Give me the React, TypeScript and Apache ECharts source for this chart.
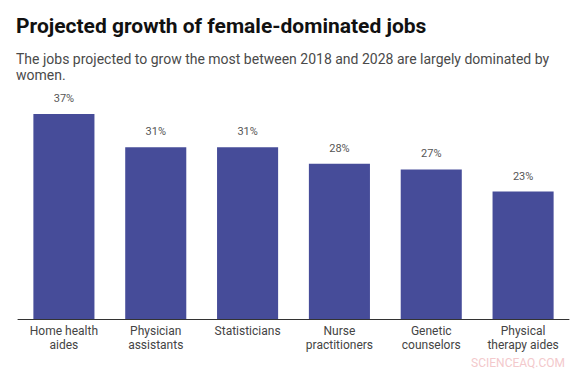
import React, { useEffect, useRef } from "react";
import * as echarts from "echarts";

const categories = [
  "Home health\naides",
  "Physician\nassistants",
  "Statisticians",
  "Nurse\npractitioners",
  "Genetic\ncounselors",
  "Physical\ntherapy aides",
];
const growth = [37, 31, 31, 28, 27, 23];
const titleText = "Projected growth of female-dominated jobs";
const subtitleText =
  "The jobs projected to grow the most between 2018 and 2028 are largely dominated by\nwomen.";
const watermark = "SCIENCEAQ.COM";

export default function App() {
  const ref = useRef<HTMLDivElement>(null);
  useEffect(() => {
    document.body.style.margin = "0";
    const chart = echarts.init(ref.current!, null, { renderer: "svg" });
    chart.setOption({
      animation: false,
      backgroundColor: "#ffffff",
      graphic: [
        {
          type: "text",
          left: 16,
          top: 15,
          style: {
            text: titleText,
            font: "bold 21px Roboto",
            fill: "#111111",
          },
        },
        {
          type: "text",
          left: 16,
          top: 51,
          style: {
            text: subtitleText,
            font: "14px Roboto",
            fill: "#4a4a4a",
            lineHeight: 16,
          },
        },
        {
          type: "text",
          right: 16,
          top: 357,
          style: {
            text: watermark,
            font: "12px Roboto",
            fill: "#f3c9cc",
          },
        },
      ],
      grid: { left: 18, right: 12, top: 114, bottom: 55 },
      xAxis: {
        type: "category",
        data: categories,
        axisLine: { lineStyle: { color: "#333333", width: 1 } },
        axisTick: { show: false },
        axisLabel: {
          color: "#444444",
          fontFamily: "Roboto",
          fontSize: 12,
          lineHeight: 14,
          margin: 5,
          interval: 0,
        },
      },
      yAxis: {
        type: "value",
        min: 0,
        max: 37,
        show: false,
        splitLine: { show: false },
      },
      series: [
        {
          type: "bar",
          data: growth,
          barWidth: "66.5%",
          itemStyle: { color: "#464c99" },
          label: {
            show: true,
            position: "top",
            distance: 10,
            formatter: "{c}%",
            color: "#555555",
            fontFamily: "Roboto",
            fontSize: 11,
          },
        },
      ],
    });
    return () => chart.dispose();
  }, []);
  return <div ref={ref} style={{ width: 581, height: 374 }} />;
}
